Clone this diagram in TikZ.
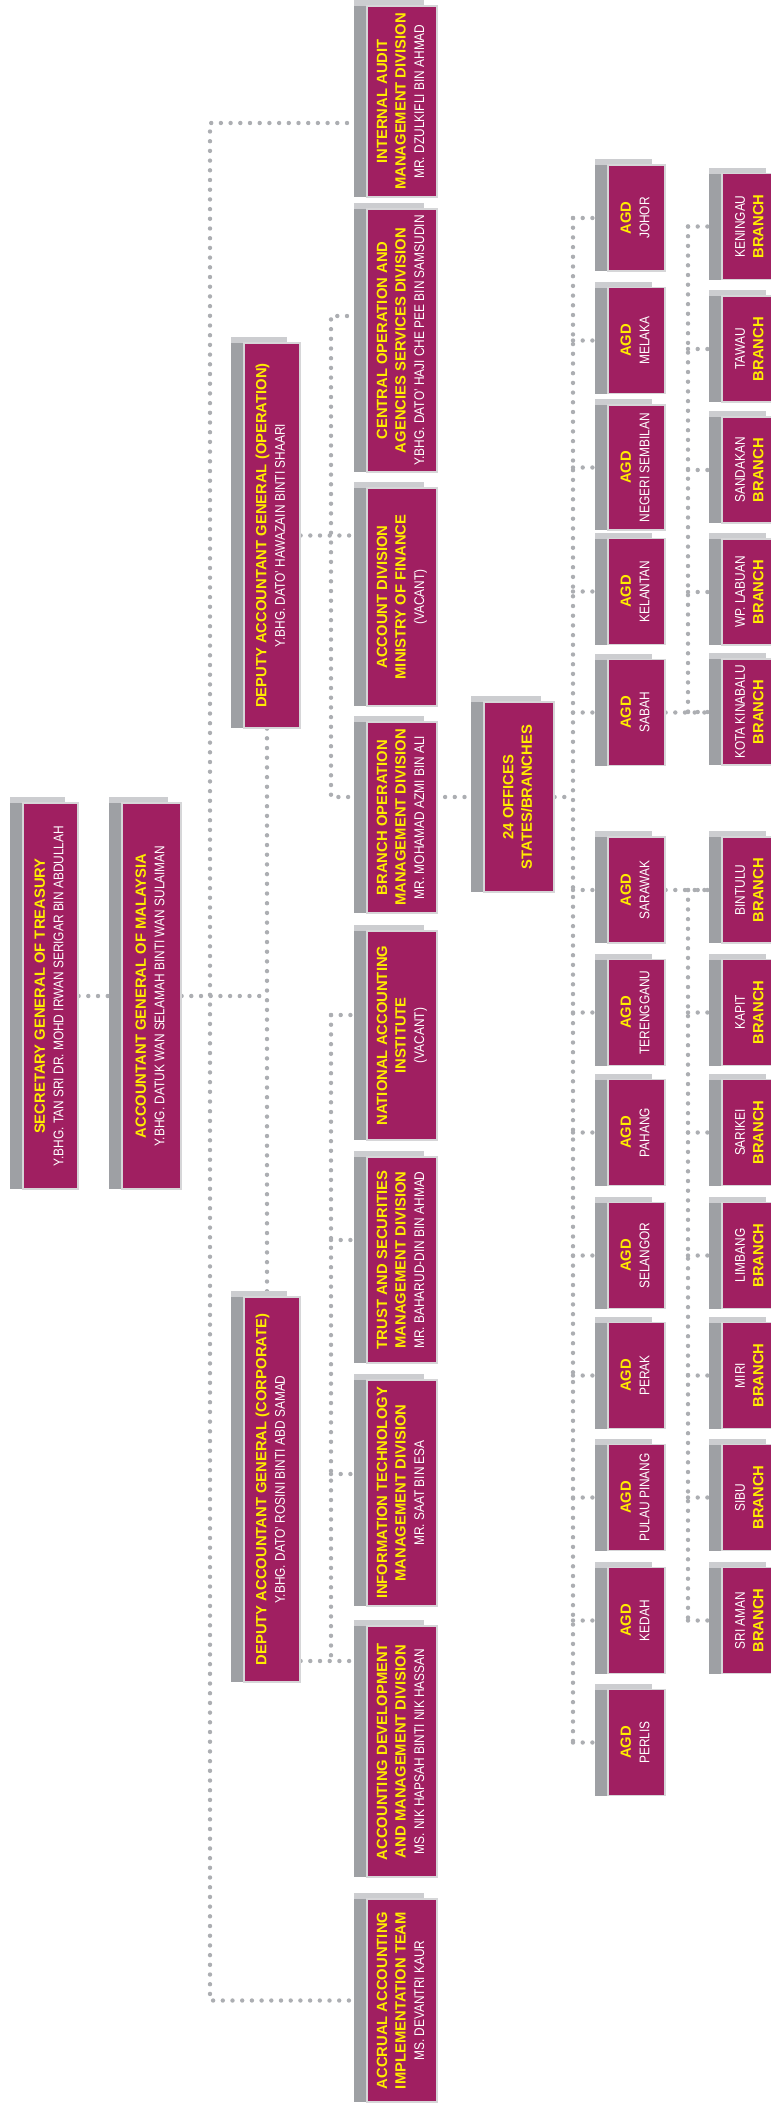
\documentclass[tikz,border=0pt]{standalone}
\usepackage{fontspec}
\setmainfont{Liberation Sans}
\newfontfamily\namefont[FakeStretch=0.85]{Liberation Sans}
\usetikzlibrary{shadows,backgrounds}
\definecolor{plum}{RGB}{160,31,97}
\definecolor{titleyellow}{RGB}{255,236,0}
\definecolor{dotgray}{RGB}{172,174,178}
\definecolor{sidegray}{RGB}{158,160,164}
\definecolor{topgray}{RGB}{204,205,208}
\definecolor{rimgray}{RGB}{214,214,216}

\newcommand{\ttl}[1]{{\bfseries\color{titleyellow}#1}}
\newcommand{\who}[1]{{\namefont\fontsize{14}{18.5}\selectfont #1}}
\newcommand{\upright}[1]{\rotatebox{90}{\fontsize{14.8}{18.5}\selectfont
  \begin{tabular}{@{}c@{}}#1\end{tabular}}}

\begin{document}
\begin{tikzpicture}[x=1pt, y=-1pt,
    box/.style={rectangle, fill=plum, draw=rimgray, line width=1.2pt,
                inner sep=0pt, text=white,
                general shadow={fill=topgray, shadow xshift=-13pt, shadow yshift=6pt},
                general shadow={fill=sidegray, shadow xshift=-13pt, shadow yshift=0pt}},
    unit/.style={box, minimum width=70pt},
    head/.style={box, minimum height=386pt},
    dag/.style={box, minimum width=56pt, minimum height=385pt},
    agd/.style={box, minimum width=57pt, minimum height=106pt},
    dots/.style={draw=dotgray, line width=4.4pt, line cap=round,
                 dash pattern=on 0pt off 9.7pt}
  ]
  \useasboundingbox (0,0) rectangle (771,2107);
  \clip (0,0) rectangle (771,2107);

  % top of the tree
  \node[head, minimum width=55pt] (secretary) at (50.5,996)
    {\upright{\ttl{SECRETARY GENERAL OF TREASURY}\\\who{Y.BHG. TAN SRI DR. MOHD IRWAN SERIGAR BIN ABDULLAH}}};
  \node[head, minimum width=59pt] (agm) at (151.5,996)
    {\upright{\ttl{ACCOUNTANT GENERAL OF MALAYSIA}\\\who{Y.BHG. DATUK WAN SELAMAH BINTI WAN SULAIMAN}}};
  \node[dag] (dagop) at (272,535.5)
    {\upright{\ttl{DEPUTY ACCOUNTANT GENERAL (OPERATION)}\\\who{Y.BHG. DATO’ HAWAZAIN BINTI SHAARI}}};
  \node[dag] (dagcorp) at (272,1489.5)
    {\upright{\ttl{DEPUTY ACCOUNTANT GENERAL (CORPORATE)}\\\who{Y.BHG. DATO’ ROSINI BINTI ABD SAMAD}}};

  % divisions
  \node[unit, minimum height=191pt] (audit) at (402,101.5)
    {\upright{\ttl{INTERNAL AUDIT}\\\ttl{MANAGEMENT DIVISION}\\\who{MR. DZULKIFLI BIN AHMAD}}};
  \node[unit, minimum height=263pt] (central) at (402,340.5)
    {\upright{\ttl{CENTRAL OPERATION AND}\\\ttl{AGENCIES SERVICES DIVISION}\\\who{Y.BHG. DATO’ HAJI CHE PEE BIN SAMSUDIN}}};
  \node[unit, minimum height=218pt] (account) at (402,597)
    {\upright{\ttl{ACCOUNT DIVISION}\\\ttl{MINISTRY OF FINANCE}\\\who{(VACANT)}}};
  \node[unit, minimum height=191pt] (branchop) at (402,817.5)
    {\upright{\ttl{BRANCH OPERATION}\\\ttl{MANAGEMENT DIVISION}\\\who{MR. MOHAMAD AZMI BIN ALI}}};
  \node[unit, minimum height=209pt] (institute) at (402,1035.5)
    {\upright{\ttl{NATIONAL ACCOUNTING}\\\ttl{INSTITUTE}\\\who{(VACANT)}}};
  \node[unit, minimum height=206pt] (trust) at (402,1260)
    {\upright{\ttl{TRUST AND SECURITIES}\\\ttl{MANAGEMENT DIVISION}\\\who{MR. BAHARUD-DIN BIN AHMAD}}};
  \node[unit, minimum height=226pt] (infotech) at (402,1493)
    {\upright{\ttl{INFORMATION TECHNOLOGY}\\\ttl{MANAGEMENT DIVISION}\\\who{MR. SAAT BIN ESA}}};
  \node[unit, minimum height=251pt] (devel) at (402,1751.5)
    {\upright{\ttl{ACCOUNTING DEVELOPMENT}\\\ttl{AND MANAGEMENT DIVISION}\\\who{MS. NIK HAPSAH BINTI NIK HASSAN}}};
  \node[unit, minimum height=203pt] (accrual) at (402,2000.5)
    {\upright{\ttl{ACCRUAL ACCOUNTING}\\\ttl{IMPLEMENTATION TEAM}\\\who{MS. DEVANTRI KAUR}}};
  \node[unit, minimum height=190pt] (offices) at (519,797)
    {\upright{\ttl{24 OFFICES}\\\ttl{STATES/BRANCHES}}};

  % state offices
  \node[agd] (johor) at (636.5,218) {\upright{\ttl{AGD}\\\who{JOHOR}}};
  \node[agd] (melaka) at (636.5,340.5) {\upright{\ttl{AGD}\\\who{MELAKA}}};
  \node[agd, minimum height=125pt] (negeri) at (636.5,467.5) {\upright{\ttl{AGD}\\\who{NEGERI SEMBILAN}}};
  \node[agd] (kelantan) at (636.5,591.5) {\upright{\ttl{AGD}\\\who{KELANTAN}}};
  \node[agd] (sabah) at (636.5,712.5) {\upright{\ttl{AGD}\\\who{SABAH}}};
  \node[agd] (sarawak) at (636.5,890) {\upright{\ttl{AGD}\\\who{SARAWAK}}};
  \node[agd] (terengganu) at (636.5,1012.5) {\upright{\ttl{AGD}\\\who{TERENGGANU}}};
  \node[agd] (pahang) at (636.5,1132.5) {\upright{\ttl{AGD}\\\who{PAHANG}}};
  \node[agd] (selangor) at (636.5,1255.5) {\upright{\ttl{AGD}\\\who{SELANGOR}}};
  \node[agd] (perak) at (636.5,1375.5) {\upright{\ttl{AGD}\\\who{PERAK}}};
  \node[agd] (pinang) at (636.5,1497.5) {\upright{\ttl{AGD}\\\who{PULAU PINANG}}};
  \node[agd] (kedah) at (636.5,1620.5) {\upright{\ttl{AGD}\\\who{KEDAH}}};
  \node[agd] (perlis) at (636.5,1742.5) {\upright{\ttl{AGD}\\\who{PERLIS}}};

  % branches
  \node[agd] (keningau) at (750.5,226.5) {\upright{\who{KENINGAU}\\\ttl{BRANCH}}};
  \node[agd] (tawau) at (750.5,349) {\upright{\who{TAWAU}\\\ttl{BRANCH}}};
  \node[agd] (sandakan) at (750.5,470) {\upright{\who{SANDAKAN}\\\ttl{BRANCH}}};
  \node[agd] (labuan) at (750.5,592) {\upright{\who{WP. LABUAN}\\\ttl{BRANCH}}};
  \node[agd] (kinabalu) at (750.5,712) {\upright{\who{KOTA KINABALU}\\\ttl{BRANCH}}};
  \node[agd] (bintulu) at (750.5,890) {\upright{\who{BINTULU}\\\ttl{BRANCH}}};
  \node[agd] (kapit) at (750.5,1012.5) {\upright{\who{KAPIT}\\\ttl{BRANCH}}};
  \node[agd] (sarikei) at (750.5,1132.5) {\upright{\who{SARIKEI}\\\ttl{BRANCH}}};
  \node[agd] (limbang) at (750.5,1255.5) {\upright{\who{LIMBANG}\\\ttl{BRANCH}}};
  \node[agd] (miri) at (750.5,1375.5) {\upright{\who{MIRI}\\\ttl{BRANCH}}};
  \node[agd] (sibu) at (750.5,1497.5) {\upright{\who{SIBU}\\\ttl{BRANCH}}};
  \node[agd] (sriaman) at (750.5,1620.5) {\upright{\who{SRI AMAN}\\\ttl{BRANCH}}};

  % dotted links, behind the boxes
  \begin{scope}[on background layer]
    \fill[white] (0,0) rectangle (771,2107);
    \coordinate (topbend) at (210,123);
    \coordinate (botbend) at (210,2000.5);
    \coordinate (agbend) at (267,996);
    \coordinate (upbend) at (331,316);
    \coordinate (naibend) at (331,1015);
    \coordinate (trustbend) at (331,1240);
    \coordinate (itbend) at (331,1474);
    \coordinate (lowbend) at (331,1661);
    \coordinate (statebar) at (573,0);
    \coordinate (branchbar) at (688,0);

    \draw[dots] (secretary.east) -- (agm.west);
    \draw[dots] (agm.east) -- (agbend);
    \draw[dots] (audit.west |- topbend) -- (topbend) -- (botbend) -- (accrual.west |- botbend);
    \draw[dots] (dagop.south -| agbend) -- (dagcorp.north -| agbend);

    \draw[dots] (central.west |- upbend) -- (upbend) -- (upbend |- offices) -- (offices.west);
    \draw[dots] (dagop.east) -- (account.west |- dagop.east);
    \draw[dots] (offices.east) -- (offices.east -| statebar);

    \draw[dots] (naibend) -- (lowbend);
    \draw[dots] (naibend) -- (institute.west |- naibend);
    \draw[dots] (trustbend) -- (trust.west |- trustbend);
    \draw[dots] (itbend) -- (infotech.west |- itbend);
    \draw[dots] (dagcorp.east |- lowbend) -- (devel.west |- lowbend);

    \draw[dots] (johor.west -| statebar) -- (perlis.west -| statebar);
    \foreach \s in {johor,melaka,negeri,kelantan,sabah,sarawak,terengganu,
                    pahang,selangor,perak,pinang,kedah,perlis}
      \draw[dots] (\s.west -| statebar) -- (\s.west);

    \draw[dots] (keningau.west -| branchbar) -- (kinabalu.west -| branchbar);
    \draw[dots] (bintulu.west -| branchbar) -- (sriaman.west -| branchbar);
    \foreach \b in {keningau,tawau,sandakan,labuan,kinabalu,bintulu,kapit,
                    sarikei,limbang,miri,sibu,sriaman}
      \draw[dots] (\b.west -| branchbar) -- (\b.west);
    \draw[dots] (sabah.east) -- (sabah.east -| kinabalu.west);
    \draw[dots] (sarawak.east) -- (bintulu.west);
  \end{scope}
\end{tikzpicture}
\end{document}
